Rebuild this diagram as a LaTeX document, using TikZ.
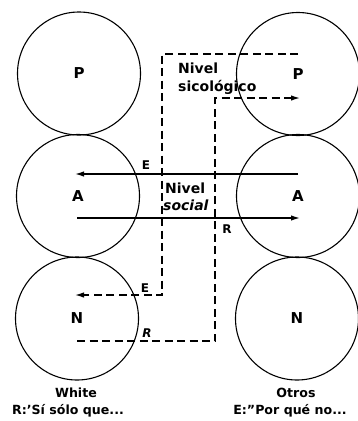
\documentclass[tikz,border=0pt]{standalone}
\usepackage{fontspec}
\setmainfont{DejaVu Sans}
\usetikzlibrary{arrows.meta}
\begin{document}
\begin{tikzpicture}[x=1pt,y=-1pt,
  ring/.style={circle,draw,minimum size=123pt,inner sep=0pt,line width=1.1pt,
    font=\bfseries\fontsize{15}{15}\selectfont},
  dsh/.style={line width=1.3pt,dash pattern=on 8pt off 4.5pt},
  sol/.style={line width=1.4pt},
  tip/.style={-{Latex[length=9pt,width=5.5pt]}},
  lbl/.style={font=\bfseries\fontsize{12}{12}\selectfont,inner sep=0pt},
  txt/.style={font=\bfseries\fontsize{14}{14}\selectfont,inner sep=0pt},
  captxt/.style={font=\fontsize{12.6}{13}\selectfont\bfseries,inner sep=0pt}]
\fill[white] (0,0) rectangle (357,421);
\useasboundingbox (0,0) rectangle (357,421);
% circles
\node[ring] (lP) at (79,73.5) {P};
\node[ring] (lA) at (78,196) {A};
\node[ring] (lN) at (77,318.5) {N};
\node[ring] (rP) at (298,74) {P};
\node[ring] (rA) at (298,196) {A};
\node[ring] (rN) at (297,318.5) {N};
% coordinates
\coordinate (e1) at (298,54);
\coordinate (e2) at (162,54);
\coordinate (e3) at (162,295);
\coordinate (e4) at (75,295);
\coordinate (r1) at (77,341);
\coordinate (r2) at (215,341);
\coordinate (r3) at (215,98);
\coordinate (r4) at (300,98);
\coordinate (s1) at (298,174);
\coordinate (s2) at (75,174);
\coordinate (s3) at (77,218);
\coordinate (s4) at (300,218);
% dashed paths
\draw[dsh,tip] (e1) -- (e2) -- (e3) -- (e4);
\draw[dsh,tip] (r1) -- (r2) -- (r3) -- (r4);
% solid arrows
\draw[sol,tip] (s1) -- (s2);
\draw[sol,tip] (s3) -- (s4);
% labels
\node[lbl] (lE1) at (146,165) {E};
\node[lbl] (lR1) at (227,229) {R};
\node[lbl] (lE2) at (145,288) {E};
\node[lbl] (lR2) at (147,333) {\itshape R};
\node[txt,anchor=west] (nv1) at (178,68) {Nivel};
\node[txt,anchor=west] (nv2) at (178,87) {sicológico};
\node[txt,anchor=west] (nv3) at (165,188) {Nivel};
\node[txt,anchor=west] (nv4) at (163,205) {\itshape social};
\node[captxt] (cW) at (76,393) {White};
\node[captxt] (cW2) at (68,411) {R:'Sí sólo que...};
\node[captxt] (cO) at (296,393) {Otros};
\node[captxt] (cO2) at (290,411) {E:"Por qué no...};
\end{tikzpicture}
\end{document}
